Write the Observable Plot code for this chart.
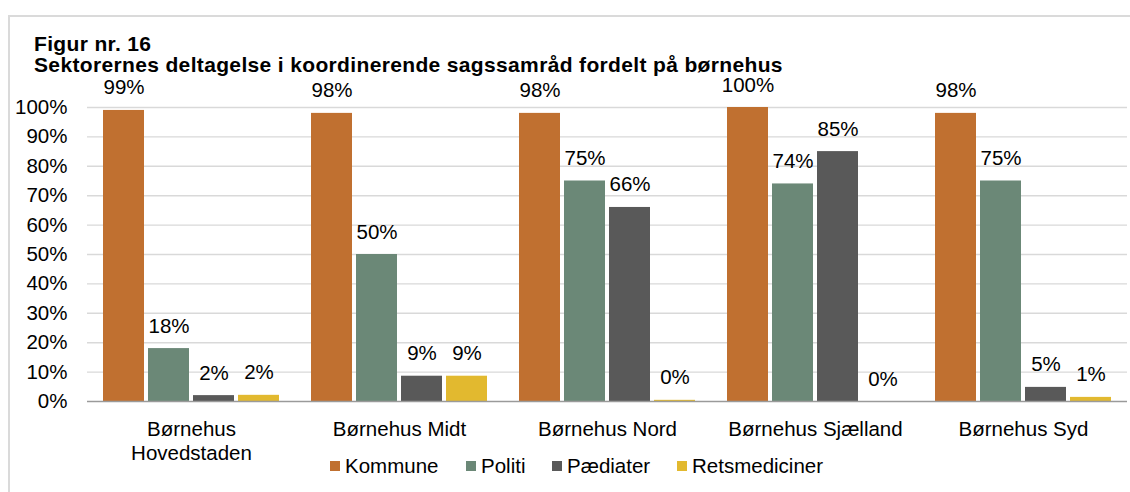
<!DOCTYPE html>
<html>
<head>
<meta charset="utf-8">
<script src="https://cdn.jsdelivr.net/npm/d3@7"></script>
<script src="https://cdn.jsdelivr.net/npm/@observablehq/plot@0.6"></script>
<style>
  html, body { margin: 0; padding: 0; background: #fff; }
  #wrap { position: relative; width: 1130px; height: 492px; overflow: hidden; background: #fff;
          font-family: "Liberation Sans", Arial, sans-serif; color: #000; }
  #frame { position: absolute; left: 8px; top: 15px; width: 1200px; height: 600px;
           border-left: 2px solid #dadada; border-top: 2px solid #dadada; }
  #chart { position: absolute; left: 0; top: 0; }
  #title { position: absolute; left: 34px; top: 33px; font-weight: bold; font-size: 21px;
           line-height: 21px; letter-spacing: 0.35px; white-space: nowrap; z-index: 2; }
  .leg { position: absolute; top: 456px; font-size: 20.5px; line-height: 20px;
         display: flex; align-items: center; white-space: nowrap; }
  .leg span.sw { display: inline-block; width: 10px; height: 10px; margin-right: 5px; }
</style>
</head>
<body>
<div id="wrap">
  <div id="frame"></div>
  <div id="chart"></div>
  <div id="title"></div>
  <div id="legend"></div>
</div>
<script>
const titleLines = ["Figur nr. 16", "Sektorernes deltagelse i koordinerende sagssamråd fordelt på børnehus"];
const groups = ["Børnehus Hovedstaden", "Børnehus Midt", "Børnehus Nord", "Børnehus Sjælland", "Børnehus Syd"];
const groupLabels = ["Børnehus\nHovedstaden", "Børnehus Midt", "Børnehus Nord", "Børnehus Sjælland", "Børnehus Syd"];
const series = ["Kommune", "Politi", "Pædiater", "Retsmediciner"];
const colors = ["#C07030", "#6B8877", "#595959", "#E2B92F"];
const kommune = [0.99, 0.98, 0.98, 1.00, 0.98];
const politi = [0.18, 0.50, 0.75, 0.74, 0.75];
const paediater = [0.02, 0.086, 0.66, 0.85, 0.048];
const retsmediciner = [0.021, 0.086, 0.004, 0.0, 0.014];
const yTicks = [0, 0.1, 0.2, 0.3, 0.4, 0.5, 0.6, 0.7, 0.8, 0.9, 1.0];
const legendX = [330, 466, 552, 677];

const seriesValues = [kommune, politi, paediater, retsmediciner];
const data = [];
groups.forEach((g, gi) => {
  series.forEach((s, si) => {
    data.push({group: g, series: s, value: seriesValues[si][gi]});
  });
});

document.getElementById("title").innerHTML = titleLines.join("<br>");

const pct = v => Math.round(v * 100) + "%";
const FS = 20.5;

const chart = Plot.plot({
  width: 1130,
  height: 470,
  marginLeft: 85,
  marginRight: 2,
  marginTop: 107,
  marginBottom: 69,
  style: {fontFamily: "'Liberation Sans', Arial, sans-serif", fontSize: FS + "px", color: "#000", background: "transparent"},
  fx: {domain: groups, padding: 0, label: null},
  x: {domain: series, paddingInner: 0.08, paddingOuter: 0.32, axis: null},
  y: {domain: [0, 1], label: null},
  color: {domain: series, range: colors},
  marks: [
    Plot.gridY(yTicks.slice(1), {stroke: "#d9d9d9", strokeOpacity: 1, strokeWidth: 1.4}),
    Plot.axisY(yTicks, {tickSize: 0, tickPadding: 20, fontSize: FS, tickFormat: pct, label: null, fill: "#000"}),
    Plot.barY(data, {fx: "group", x: "series", y: "value", fill: "series"}),
    Plot.ruleY([0], {stroke: "#9a9a9a", strokeWidth: 1.4}),
    Plot.text(data, {fx: "group", x: "series", y: "value", text: d => pct(d.value),
                     lineAnchor: "bottom", dy: -16, fontSize: FS, fill: "#000"}),
    Plot.axisFx({anchor: "bottom", tickSize: 0, tickPadding: 17, fontSize: FS, lineHeight: 1.17,
                 label: null, fill: "#000",
                 tickFormat: d => groupLabels[groups.indexOf(d)]})
  ]
});
document.getElementById("chart").appendChild(chart);

const leg = document.getElementById("legend");
series.forEach((s, i) => {
  const item = document.createElement("div");
  item.className = "leg";
  item.style.left = legendX[i] + "px";
  item.innerHTML = `<span class="sw" style="background:${colors[i]}"></span><span>${s}</span>`;
  leg.appendChild(item);
});
</script>
</body>
</html>
